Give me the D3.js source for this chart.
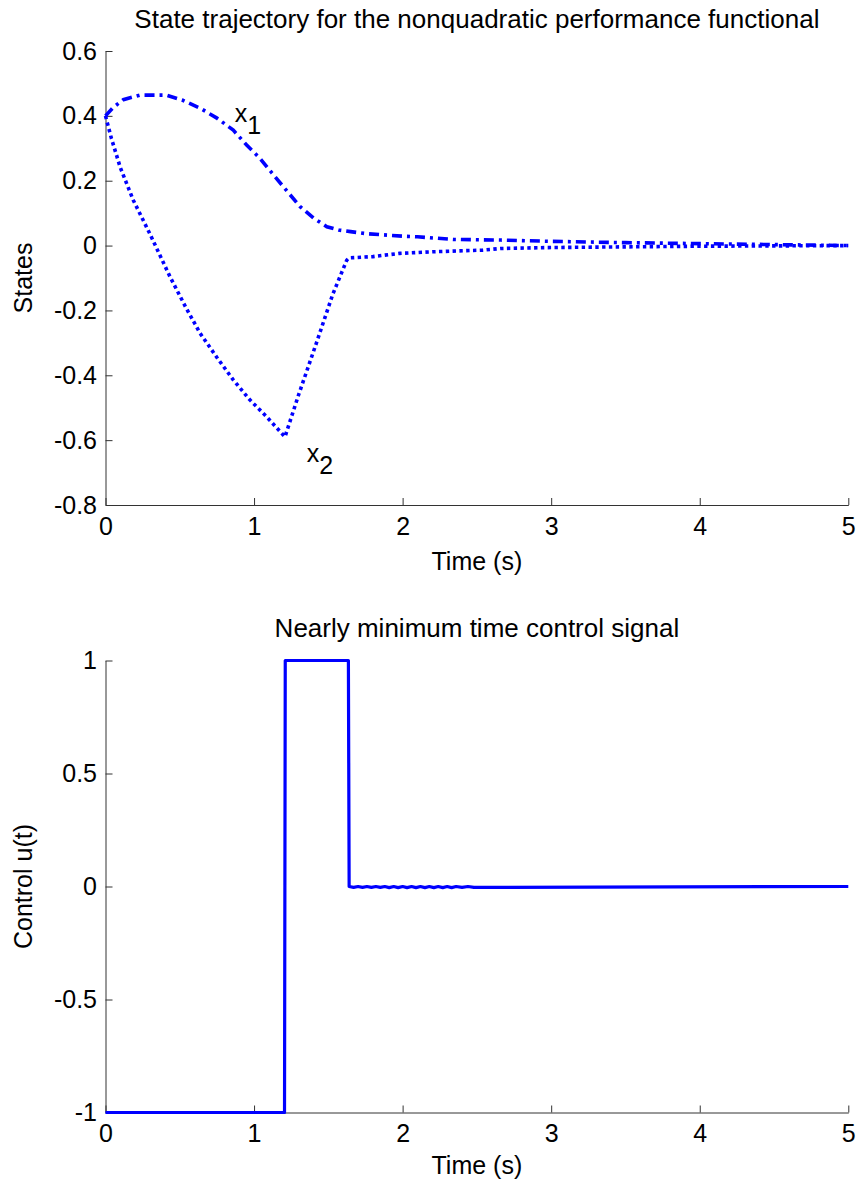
<!DOCTYPE html>
<html><head><meta charset="utf-8">
<script src="https://cdn.jsdelivr.net/npm/d3@7"></script>
<style>body{margin:0;background:#fff}text{font-family:"Liberation Sans",Arial,sans-serif;fill:#000}</style>
</head><body>
<svg id="c" width="859" height="1186"></svg>
<script>
// ---- data ----
const x1Time = [0, 0.05, 0.12, 0.23, 0.41, 0.52, 0.64, 0.75, 0.86, 0.95, 1.04, 1.12, 1.2, 1.31, 1.4, 1.49, 1.57, 1.65, 1.75, 1.87, 2.0, 2.1, 2.34, 2.66, 3.0, 3.5, 4.0, 4.5, 5.0];
const x1Vals = [0.4, 0.425, 0.45, 0.464, 0.464, 0.448, 0.423, 0.393, 0.356, 0.31, 0.269, 0.224, 0.18, 0.12, 0.085, 0.058, 0.048, 0.043, 0.037, 0.033, 0.029, 0.027, 0.019, 0.017, 0.013, 0.009, 0.006, 0.003, 0.0];
const x2Time = [0, 0.04, 0.1, 0.187, 0.3, 0.434, 0.54, 0.636, 0.75, 0.86, 0.97, 1.085, 1.208, 1.3, 1.42, 1.53, 1.624, 1.64, 1.8, 1.98, 2.21, 2.54, 2.66, 3.0, 3.5, 4.0, 4.5, 5.0];
const x2Vals = [0.4, 0.33, 0.24, 0.14, 0.035, -0.096, -0.19, -0.27, -0.345, -0.414, -0.475, -0.528, -0.59, -0.46, -0.3, -0.15, -0.045, -0.038, -0.034, -0.024, -0.019, -0.014, -0.009, -0.006, -0.004, -0.002, -0.001, 0.0];
const uTime = [0, 1.205, 1.21, 1.635, 1.64, 1.67, 1.70, 1.73, 1.76, 1.79, 1.82, 1.85, 1.88, 1.91, 1.94, 1.97, 2.0, 2.03, 2.06, 2.09, 2.12, 2.15, 2.18, 2.21, 2.24, 2.27, 2.30, 2.33, 2.36, 2.40, 2.44, 2.48, 5.0];
const uVals = [-1, -1, 1, 1, 0, -0.004, 0, -0.004, 0, -0.004, 0, -0.004, 0, -0.005, 0, -0.005, 0, -0.005, 0, -0.005, 0, -0.005, 0, -0.005, 0, -0.005, 0, -0.005, 0, -0.004, 0, -0.004, 0];
const xTicks = [0, 1, 2, 3, 4, 5];
const xTickLabels = ["0", "1", "2", "3", "4", "5"];
const yTicksTop = [0.6, 0.4, 0.2, 0, -0.2, -0.4, -0.6, -0.8];
const yTickLabelsTop = ["0.6", "0.4", "0.2", "0", "-0.2", "-0.4", "-0.6", "-0.8"];
const yTicksBot = [1, 0.5, 0, -0.5, -1];
const yTickLabelsBot = ["1", "0.5", "0", "-0.5", "-1"];
const titles = ["State trajectory for the nonquadratic performance functional", "Nearly minimum time control signal"];
const yLabels = ["States", "Control u(t)"];
const xLabel = "Time (s)";

// ---- drawing ----
const svg = d3.select("#c");
const FS = 25;
const left = 105.5, right = 848.3;
const x = d3.scaleLinear().domain([0, 5]).range([left, right]);

function panel(top, bottom, ydom, yt, ytl, title, ylab, titleY, xlabY) {
  const y = d3.scaleLinear().domain(ydom).range([bottom, top]);
  const g = svg.append("g");
  const xa = g.append("g").attr("transform", `translate(0,${bottom})`)
    .call(d3.axisBottom(x).tickValues(xTicks).tickFormat((d, i) => xTickLabels[i]).tickSizeInner(-7).tickSizeOuter(0).tickPadding(12));
  const ya = g.append("g").attr("transform", `translate(${left},0)`)
    .call(d3.axisLeft(y).tickValues(yt).tickFormat((d, i) => ytl[i]).tickSizeInner(-7).tickSizeOuter(0).tickPadding(8.5));
  [xa, ya].forEach(a => {
    a.selectAll("path").attr("stroke", "#333").attr("stroke-width", 1);
    a.selectAll("line").attr("stroke", "#333").attr("stroke-width", 1);
    a.selectAll("text").attr("font-size", FS).attr("font-family", "Liberation Sans, Arial, sans-serif").attr("fill", "#000");
  });
  g.append("text").attr("x", (left + right) / 2).attr("y", titleY).attr("text-anchor", "middle").attr("font-size", 26).text(title);
  g.append("text").attr("x", (left + right) / 2).attr("y", xlabY).attr("text-anchor", "middle").attr("font-size", FS).text(xLabel);
  g.append("text").attr("transform", `translate(32,${(top + bottom) / 2}) rotate(-90)`).attr("text-anchor", "middle").attr("font-size", FS).text(ylab);
  return y;
}

const yTop = panel(51, 505, [-0.8, 0.6], yTicksTop, yTickLabelsTop, titles[0], yLabels[0], 28, 570);
const line = (ys) => d3.line().x(d => x(d[0])).y(d => ys(d[1]));

svg.append("path").datum(x1Time.map((t, i) => [t, x1Vals[i]]))
  .attr("d", line(yTop)).attr("fill", "none").attr("stroke", "#0000ff").attr("stroke-width", 3.6)
  .attr("stroke-dasharray", "10,5,3,5");
svg.append("path").datum(x2Time.map((t, i) => [t, x2Vals[i]]))
  .attr("d", line(yTop)).attr("fill", "none").attr("stroke", "#0000ff").attr("stroke-width", 3.6)
  .attr("stroke-dasharray", "3.4,3.4");

function subLabel(t, v, main, sub) {
  const tx = svg.append("text").attr("x", x(t)).attr("y", yTop(v)).attr("font-size", FS);
  tx.append("tspan").text(main);
  tx.append("tspan").attr("dy", 12).attr("font-size", FS).text(sub);
}
subLabel(0.87, 0.381, "x", "1");
subLabel(1.354, -0.667, "x", "2");

const yBot = panel(660.5, 1112.5, [-1, 1], yTicksBot, yTickLabelsBot, titles[1], yLabels[1], 637, 1174);
svg.append("path").datum(uTime.map((t, i) => [t, uVals[i]]))
  .attr("d", line(yBot)).attr("fill", "none").attr("stroke", "#0000ff").attr("stroke-width", 3.2)
  .attr("stroke-linejoin", "round");
</script>
</body></html>
